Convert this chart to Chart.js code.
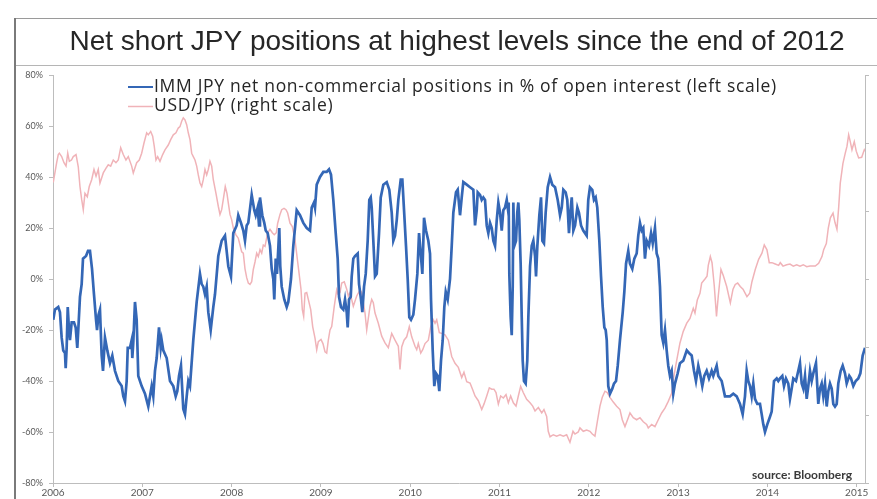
<!DOCTYPE html>
<html>
<head>
<meta charset="utf-8">
<script src="https://cdn.jsdelivr.net/npm/chart.js@4.4.1/dist/chart.umd.min.js"></script>
<style>
  html, body { margin: 0; padding: 0; background: #ffffff; }
  #wrap { width: 877px; height: 499px; position: relative; }
</style>
</head>
<body>
<div id="wrap"><canvas id="c" width="877" height="499"></canvas></div>
<script>
// IMM JPY net non-commercial positions, % of open interest (decimal-year dates)
const immDates = [
  2006.003,2006.022,2006.059,2006.078,2006.097,2006.115,2006.134,2006.142,2006.153,2006.165,2006.179,2006.190,2006.209,2006.235,2006.254,2006.272,2006.283,2006.302,2006.321,2006.336,2006.370,2006.392,2006.414,2006.437,2006.459,2006.482,2006.493,2006.510,2006.526,2006.545,2006.560,2006.582,2006.608,2006.638,2006.664,2006.694,2006.731,2006.769,2006.787,2006.806,2006.825,2006.837,2006.862,2006.881,2006.888,2006.899,2006.918,2006.937,2006.955,2006.993,
  2007.030,2007.067,2007.086,2007.105,2007.123,2007.142,2007.161,2007.187,2007.206,2007.217,2007.235,2007.273,2007.310,2007.347,2007.374,2007.392,2007.411,2007.433,2007.459,2007.478,2007.497,2007.515,2007.534,2007.571,2007.609,2007.646,2007.665,2007.683,2007.702,2007.721,2007.739,2007.766,2007.795,2007.814,2007.851,2007.889,2007.926,2007.963,2007.993,
  2008.019,2008.057,2008.075,2008.105,2008.131,2008.150,2008.169,2008.187,2008.225,2008.254,2008.270,2008.292,2008.307,2008.318,2008.344,2008.366,2008.382,2008.404,2008.430,2008.449,2008.467,2008.478,2008.494,2008.508,2008.523,2008.534,2008.545,2008.561,2008.590,2008.617,2008.635,2008.665,2008.691,2008.729,2008.766,2008.803,2008.841,2008.878,2008.897,2008.923,2008.934,2008.953,2008.990,
  2009.027,2009.065,2009.091,2009.113,2009.139,2009.166,2009.188,2009.203,2009.225,2009.251,2009.270,2009.289,2009.300,2009.315,2009.334,2009.345,2009.363,2009.382,2009.412,2009.427,2009.449,2009.464,2009.483,2009.502,2009.524,2009.542,2009.558,2009.569,2009.587,2009.606,2009.625,2009.651,2009.670,2009.699,2009.737,2009.766,2009.793,2009.811,2009.830,2009.849,2009.867,2009.894,2009.912,2009.931,2009.953,2009.972,2009.990,
  2010.009,2010.035,2010.054,2010.080,2010.099,2010.118,2010.136,2010.155,2010.177,2010.203,2010.222,2010.233,2010.252,2010.270,2010.289,2010.308,2010.326,2010.345,2010.364,2010.382,2010.398,2010.420,2010.446,2010.465,2010.483,2010.513,2010.532,2010.558,2010.577,2010.595,2010.633,2010.670,2010.707,2010.726,2010.745,2010.756,2010.782,2010.801,2010.819,2010.838,2010.857,2010.875,2010.894,2010.913,2010.931,2010.950,2010.969,2010.987,
  2011.006,2011.025,2011.043,2011.062,2011.081,2011.092,2011.103,2011.110,2011.125,2011.137,2011.148,2011.155,2011.166,2011.185,2011.199,2011.211,2011.222,2011.237,2011.249,2011.260,2011.274,2011.293,2011.311,2011.323,2011.342,2011.361,2011.379,2011.398,2011.409,2011.424,2011.446,2011.465,2011.480,2011.498,2011.517,2011.540,2011.566,2011.591,2011.622,2011.652,2011.678,2011.697,2011.715,2011.741,2011.759,2011.778,2011.793,2011.809,2011.827,2011.846,2011.872,2011.890,2011.913,2011.938,2011.976,2011.994,
  2012.013,2012.039,2012.058,2012.077,2012.095,2012.118,2012.137,2012.156,2012.174,2012.189,2012.201,2012.218,2012.237,2012.263,2012.282,2012.305,2012.324,2012.349,2012.380,2012.398,2012.417,2012.442,2012.461,2012.487,2012.510,2012.536,2012.554,2012.573,2012.592,2012.610,2012.629,2012.648,2012.674,2012.697,2012.716,2012.741,2012.760,2012.778,2012.797,2012.816,2012.834,2012.853,2012.872,2012.890,2012.909,2012.928,2012.946,2012.965,2012.995,
  2013.021,2013.058,2013.097,2013.122,2013.152,2013.178,2013.200,2013.226,2013.245,2013.271,2013.293,2013.320,2013.346,2013.376,2013.394,2013.432,2013.450,2013.488,2013.525,2013.581,2013.618,2013.656,2013.693,2013.723,2013.749,2013.768,2013.786,2013.805,2013.824,2013.842,2013.861,2013.887,2013.917,2013.936,2013.954,2013.973,2013.999,
  2014.029,2014.048,2014.074,2014.104,2014.122,2014.141,2014.167,2014.186,2014.208,2014.234,2014.253,2014.272,2014.290,2014.320,2014.346,2014.365,2014.384,2014.402,2014.421,2014.440,2014.458,2014.477,2014.496,2014.514,2014.544,2014.570,2014.589,2014.608,2014.626,2014.645,2014.664,2014.682,2014.701,2014.720,2014.738,2014.757,2014.776,2014.794,2014.821,2014.843,2014.869,2014.888,2014.917,2014.936,2014.962,2014.989,
  2015.018,2015.041,2015.067,2015.093
];
const immValues = [
  -16,-12,-11,-13,-23,-28,-29,-35,-27,-11,-20,-24,-17,-17,-19,-27,-20,-7,-2,8,9,11,11,4,-6,-16,-20,-14,-12,-30,-36,-23,-28,-33,-30,-36,-40,-42,-46,-48,-40,-27,-27,-24,-31,-25,-9,-16,-38,-42,
  -45,-50,-46,-42,-46,-36,-31,-19,-27,-24,-28,-31,-40,-42,-46,-44,-38,-34,-51,-53,-46,-40,-42,-24,-9,2,-2,-3,-6,-3,-13,-20,-11,-6,9,15,17,5,1,
  18,21,25,22,19,15,21,22,33,27,25,28,21,32,25,22,19,18,13,4,0,-8,8,2,12,20,5,-3,-8,-11,-9,0,13,27,25,22,20,19,28,30,28,37,40,
  42,42,43,41,31,18,8,-7,-11,-12,-8,-13,-19,-8,-7,1,8,9,10,-2,-8,-13,-3,2,15,31,32,28,15,1,2,18,32,37,38,35,26,15,17,23,31,39,39,27,13,0,-15,
  -16,-14,-8,2,18,10,2,24,19,15,10,-8,-28,-42,-37,-38,-44,-32,-24,-11,-5,-8,0,13,26,34,35,25,32,38,37,36,35,21,27,34,33,31,32,31,21,18,22,20,15,13,23,30,
  26,19,27,28,31,28,30,2,-15,-22,-3,30,13,15,26,30,23,6,-15,-32,-40,-41,-32,-15,5,13,15,9,1,13,25,32,15,14,26,36,40,37,36,31,25,28,35,34,31,18,26,32,19,21,28,26,21,19,17,31,
  36,35,31,32,28,15,1,-11,-19,-20,-24,-42,-45,-43,-41,-40,-34,-24,-13,-5,6,11,6,4,8,10,17,22,19,20,8,15,13,18,14,20,10,8,-3,-22,-25,-20,-28,-34,-38,-36,-45,-41,-37,
  -33,-32,-28,-29,-30,-36,-40,-34,-37,-42,-38,-36,-39,-36,-38,-34,-38,-40,-46,-46,-45,-46,-49,-53,-46,-36,-40,-42,-46,-41,-47,-49,-49,-53,-57,-60,-57,
  -54,-52,-40,-39,-40,-39,-38,-42,-39,-41,-47,-43,-39,-40,-36,-33,-41,-43,-38,-47,-42,-36,-40,-37,-33,-49,-43,-41,-46,-41,-50,-44,-41,-43,-49,-50,-49,-41,-36,-34,-37,-41,-38,-39,-42,-40,
  -39,-37,-30,-27
];

// USD/JPY spot rate (decimal-year dates)
const usdJpyDates = [
  2006.003,2006.041,2006.059,2006.071,2006.097,2006.123,2006.146,2006.165,2006.183,2006.207,2006.227,2006.258,2006.283,2006.302,2006.321,2006.339,2006.358,2006.384,2006.406,2006.433,2006.459,2006.482,2006.507,2006.526,2006.563,2006.594,2006.619,2006.646,2006.675,2006.705,2006.731,2006.758,2006.787,2006.817,2006.843,2006.881,2006.899,2006.937,2006.966,2006.993,
  2007.019,2007.049,2007.067,2007.094,2007.116,2007.134,2007.153,2007.172,2007.198,2007.228,2007.254,2007.291,2007.318,2007.347,2007.377,2007.403,2007.422,2007.441,2007.459,2007.478,2007.497,2007.515,2007.534,2007.553,2007.571,2007.590,2007.609,2007.627,2007.646,2007.665,2007.683,2007.702,2007.721,2007.739,2007.758,2007.777,2007.795,2007.825,2007.851,2007.870,2007.889,2007.907,2007.929,2007.948,2007.963,2007.982,
  2008.001,2008.019,2008.049,2008.075,2008.094,2008.113,2008.131,2008.150,2008.169,2008.187,2008.206,2008.225,2008.243,2008.262,2008.281,2008.299,2008.318,2008.337,2008.355,2008.374,2008.404,2008.430,2008.456,2008.478,2008.501,2008.516,2008.542,2008.561,2008.587,2008.609,2008.628,2008.654,2008.680,2008.710,2008.740,2008.755,2008.777,2008.792,2008.807,2008.822,2008.841,2008.859,2008.886,2008.908,2008.934,2008.953,2008.971,
  2009.001,2009.023,2009.046,2009.065,2009.083,2009.102,2009.121,2009.150,2009.177,2009.191,2009.214,2009.233,2009.262,2009.289,2009.307,2009.326,2009.363,2009.401,2009.438,2009.457,2009.494,2009.513,2009.550,2009.569,2009.587,2009.606,2009.643,2009.681,2009.718,2009.755,2009.793,2009.830,2009.867,2009.886,2009.905,2009.931,2009.961,2009.990,
  2010.017,2010.054,2010.073,2010.091,2010.118,2010.140,2010.166,2010.203,2010.230,2010.259,2010.278,2010.297,2010.326,2010.353,2010.390,2010.427,2010.465,2010.502,2010.539,2010.577,2010.602,2010.633,2010.670,2010.700,2010.726,2010.763,2010.801,2010.826,2010.857,2010.886,2010.913,2010.938,2010.961,2010.987,
  2011.013,2011.043,2011.073,2011.099,2011.125,2011.155,2011.185,2011.211,2011.237,2011.266,2011.304,2011.342,2011.372,2011.398,2011.435,2011.473,2011.498,2011.528,2011.546,2011.566,2011.603,2011.640,2011.678,2011.715,2011.752,2011.789,2011.823,2011.845,2011.882,2011.901,2011.938,2011.976,
  2012.013,2012.039,2012.069,2012.095,2012.125,2012.151,2012.181,2012.207,2012.237,2012.274,2012.312,2012.349,2012.375,2012.405,2012.442,2012.461,2012.498,2012.536,2012.573,2012.610,2012.648,2012.666,2012.704,2012.741,2012.778,2012.816,2012.853,2012.890,2012.928,2012.946,2012.984,
  2013.021,2013.058,2013.097,2013.133,2013.170,2013.189,2013.215,2013.245,2013.264,2013.301,2013.324,2013.338,2013.361,2013.380,2013.405,2013.430,2013.450,2013.480,2013.506,2013.544,2013.585,2013.615,2013.640,2013.667,2013.696,2013.727,2013.771,2013.802,2013.827,2013.864,2013.902,2013.939,2013.965,2013.995,
  2014.021,2014.051,2014.088,2014.126,2014.144,2014.175,2014.216,2014.253,2014.290,2014.328,2014.365,2014.402,2014.440,2014.477,2014.536,2014.574,2014.611,2014.630,2014.660,2014.682,2014.705,2014.735,2014.757,2014.779,2014.798,2014.816,2014.846,2014.872,2014.891,2014.910,2014.928,2014.947,2014.973,2014.995,
  2015.022,2015.056,2015.085,2015.093
];
const usdJpyValues = [
  114.2,117.1,118.3,118.5,118.0,117.1,116.6,118.5,117.3,117.5,118.0,118.3,116.5,113.6,111.7,110.2,112.6,112.1,113.6,114.6,116.1,115.1,116.1,114.1,115.6,116.3,116.8,116.6,117.5,117.1,117.5,119.3,118.3,117.5,118.0,116.6,115.6,117.1,117.5,118.5,
  120.0,121.5,121.2,121.7,121.0,119.5,117.5,118.0,117.3,118.3,119.0,119.7,120.5,121.2,121.5,122.2,122.4,123.2,123.7,123.4,122.7,121.5,120.5,118.5,118.0,117.5,116.6,115.3,114.1,113.6,114.6,116.1,115.3,116.1,117.3,116.6,114.6,112.6,110.7,109.5,110.2,111.7,113.6,112.6,111.2,109.5,
  108.7,107.5,106.5,106.0,105.0,104.0,103.8,101.5,100.2,99.4,99.2,99.6,101.4,102.5,103.8,103.3,104.3,103.8,105.0,104.8,106.8,107.3,106.8,106.5,106.8,108.2,109.5,110.2,110.4,110.2,109.7,108.2,107.7,105.8,102.5,100.9,98.5,95.5,94.5,97.9,98.0,97.0,95.5,93.0,91.3,89.6,90.8,
  91.1,90.5,89.3,89.1,91.0,92.5,93.0,96.0,98.4,97.8,98.0,99.4,99.6,98.5,97.5,98.0,96.0,97.5,98.4,98.0,95.0,92.5,96.0,97.0,96.5,95.0,93.5,91.6,90.6,89.9,92.0,91.0,90.1,86.7,90.0,91.0,91.5,93.0,
  91.5,90.1,89.6,90.5,89.1,89.6,90.5,91.0,93.0,94.0,93.5,94.0,92.1,92.0,91.8,91.0,88.6,87.6,87.0,85.5,86.3,84.9,84.7,83.7,82.8,82.1,80.8,81.6,82.8,84.0,83.8,83.8,83.3,81.6,
  82.8,82.5,83.0,81.8,82.8,81.8,81.3,82.8,84.2,83.3,82.3,81.8,81.3,80.6,81.1,80.3,80.8,79.8,77.6,76.8,77.1,76.9,77.1,76.9,77.1,76.0,77.6,77.2,77.5,78.1,77.6,77.8,
  77.6,77.2,76.9,79.0,81.3,82.6,83.5,83.3,82.6,81.9,81.3,80.8,79.3,78.3,79.6,80.3,79.6,79.3,79.6,79.0,78.6,78.1,78.6,78.3,79.3,80.3,81.0,82.0,83.2,85.2,88.0,
  90.6,92.3,93.5,94.2,95.7,95.0,96.9,97.9,99.4,100.0,100.4,102.0,103.3,102.4,99.0,94.5,97.5,101.4,100.5,98.9,96.5,98.5,99.2,99.4,98.9,98.5,97.4,97.9,99.6,101.4,102.9,103.8,105.0,104.3,
  102.4,102.4,102.2,102.0,102.4,101.9,102.1,102.2,101.9,102.1,101.9,102.1,101.8,101.9,101.9,102.3,103.3,104.3,105.2,107.5,109.0,109.7,108.3,107.3,110.5,114.1,117.0,118.5,119.5,121.2,120.2,119.0,120.2,118.8,
  117.8,117.9,119.0,118.8
];

const yearTicks = [2006, 2007, 2008, 2009, 2010, 2011, 2012, 2013, 2014, 2015];
const leftTicks = [-80, -60, -40, -20, 0, 20, 40, 60, 80];
const rightTicks = [70, 80, 90, 100, 110, 120, 130];

const titleText = 'Net short JPY positions at highest levels since the end of 2012';
const seriesLabels = [
  'IMM JPY net non-commercial positions in % of open interest (left scale)',
  'USD/JPY (right scale)'
];
const sourceText = 'source: Bloomberg';

const toPoints = (xs, ys) => xs.map((x, i) => ({ x: x, y: ys[i] }));

// white page, headline band with its rules, and the left page rule
const framePlugin = {
  id: 'frame',
  beforeDraw(chart) {
    const ctx = chart.ctx;
    ctx.save();
    ctx.fillStyle = '#ffffff';
    ctx.fillRect(0, 0, chart.width, chart.height);
    ctx.strokeStyle = '#9a9a9a';
    ctx.lineWidth = 1;
    ctx.beginPath();
    ctx.moveTo(15, 18.5); ctx.lineTo(chart.width, 18.5);
    ctx.stroke();
    ctx.strokeStyle = '#b5b5b5';
    ctx.beginPath();
    ctx.moveTo(15, 65.5); ctx.lineTo(chart.width, 65.5);
    ctx.stroke();
    ctx.strokeStyle = '#7a7a7a';
    ctx.lineWidth = 2;
    ctx.beginPath();
    ctx.moveTo(15, 18); ctx.lineTo(15, chart.height);
    ctx.stroke();
    ctx.fillStyle = '#262626';
    ctx.font = '28px "Liberation Sans", Arial, sans-serif';
    ctx.textAlign = 'center';
    ctx.textBaseline = 'middle';
    ctx.fillText(titleText, 457, 42);
    ctx.restore();
  }
};

// series key drawn inside the plot, top-left
const keyPlugin = {
  id: 'insideKey',
  afterDraw(chart) {
    const ctx = chart.ctx;
    ctx.save();
    ctx.font = '17.5px "Open Sans"';
    if ('letterSpacing' in ctx) ctx.letterSpacing = '0.7px';
    ctx.textBaseline = 'middle';
    ctx.textAlign = 'left';
    chart.data.datasets.forEach((ds, i) => {
      const y = 87 + i * 19.5;
      ctx.strokeStyle = ds.borderColor;
      ctx.lineWidth = i === 0 ? 2 : 1.5;
      ctx.beginPath();
      ctx.moveTo(128, y); ctx.lineTo(153, y);
      ctx.stroke();
      ctx.fillStyle = '#262626';
      ctx.fillText(ds.label, 154, y);
    });
    ctx.restore();
  }
};

// data source note, bottom-right of the plot
const sourcePlugin = {
  id: 'sourceNote',
  afterDraw(chart) {
    const ctx = chart.ctx;
    const a = chart.chartArea;
    ctx.save();
    ctx.font = 'bold 12px Lato';
    ctx.fillStyle = '#3a3a3a';
    ctx.textAlign = 'right';
    ctx.textBaseline = 'middle';
    ctx.fillText(sourceText, a.right - 13, a.bottom - 8);
    ctx.restore();
  }
};

const axisGrey = '#bdbdbd';
const tickFont = { family: 'Lato', size: 10 };

new Chart(document.getElementById('c'), {
  type: 'line',
  data: {
    datasets: [
      {
        label: seriesLabels[0],
        data: toPoints(immDates, immValues),
        yAxisID: 'y',
        borderColor: '#3467b6',
        borderWidth: 2.7,
        pointRadius: 0,
        tension: 0,
        fill: false
      },
      {
        label: seriesLabels[1],
        data: toPoints(usdJpyDates, usdJpyValues),
        yAxisID: 'y2',
        borderColor: '#f0b3b8',
        borderWidth: 1.5,
        pointRadius: 0,
        tension: 0,
        fill: false
      }
    ]
  },
  options: {
    responsive: false,
    animation: false,
    devicePixelRatio: 1,
    layout: { padding: { top: 75, left: 0, right: 0, bottom: 0 } },
    plugins: {
      legend: { display: false },
      tooltip: { enabled: false },
      title: { display: false }
    },
    scales: {
      x: {
        type: 'linear',
        min: 2006,
        max: 2015.093,
        afterBuildTicks: s => { s.ticks = yearTicks.map(v => ({ value: v })); },
        afterFit: s => { s.height = 16; },
        ticks: { callback: v => String(v), font: tickFont, color: '#595959', padding: 0, maxRotation: 0, autoSkip: false },
        grid: { drawOnChartArea: false, drawTicks: true, tickLength: 4, color: axisGrey },
        border: { color: axisGrey }
      },
      y: {
        position: 'left',
        min: -80,
        max: 80,
        afterBuildTicks: s => { s.ticks = leftTicks.map(v => ({ value: v })); },
        afterFit: s => { s.width = 53; },
        ticks: { callback: v => v + '%', font: { family: 'Lato', size: 9 }, color: '#595959', padding: 6 },
        grid: { drawOnChartArea: false, drawTicks: true, tickLength: 4, color: axisGrey },
        border: { color: axisGrey }
      },
      y2: {
        position: 'right',
        min: 70,
        max: 130,
        afterBuildTicks: s => { s.ticks = rightTicks.map(v => ({ value: v })); },
        afterFit: s => { s.width = 12; },
        ticks: { display: false },
        grid: { drawOnChartArea: false, drawTicks: true, tickLength: 4, color: axisGrey },
        border: { color: axisGrey }
      }
    }
  },
  plugins: [framePlugin, keyPlugin, sourcePlugin]
});
</script>
</body>
</html>
